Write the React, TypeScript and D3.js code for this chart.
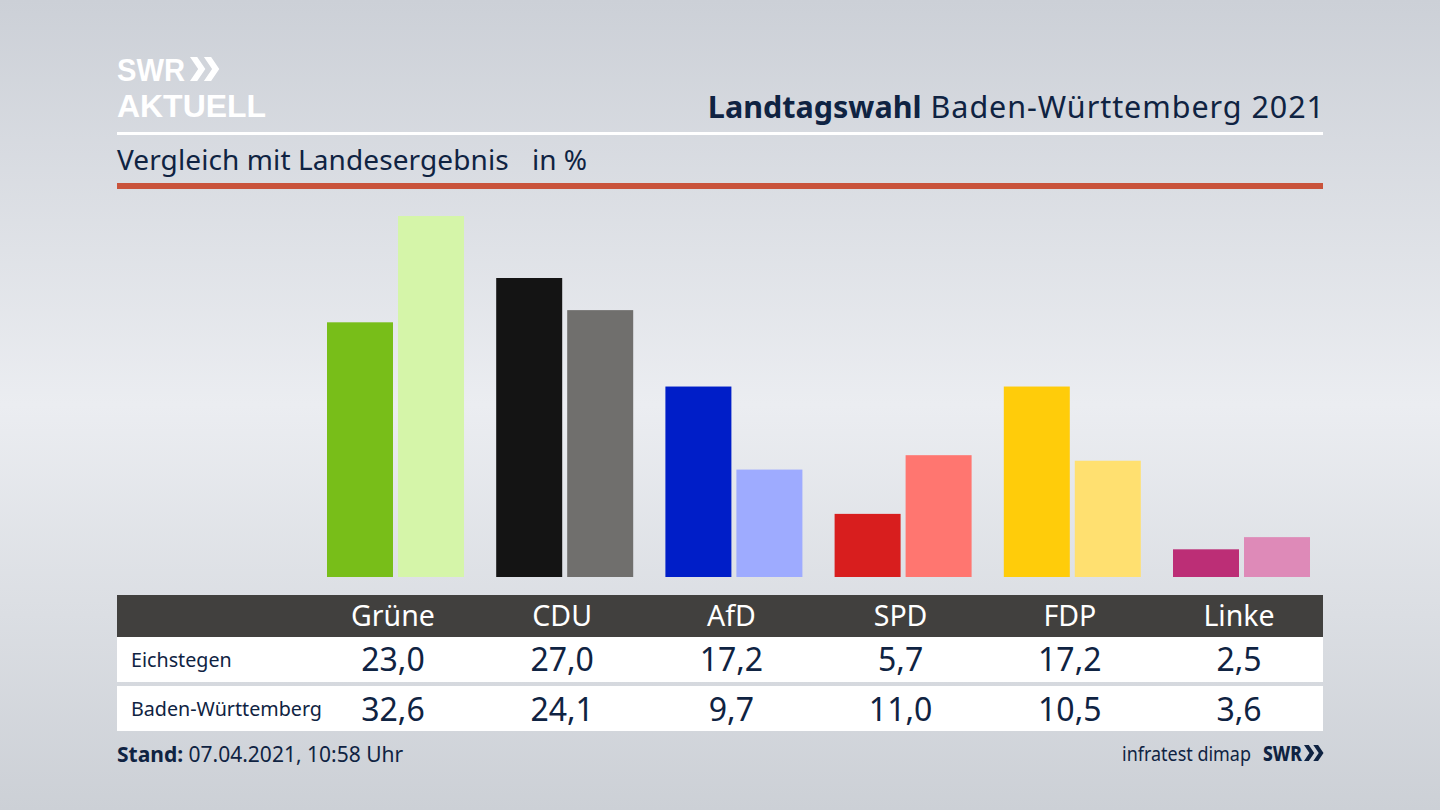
import * as d3 from "d3"

const parties = ["Grüne", "CDU", "AfD", "SPD", "FDP", "Linke"]
const eichstegen = [23.0, 27.0, 17.2, 5.7, 17.2, 2.5]
const land = [32.6, 24.1, 9.7, 11.0, 10.5, 3.6]
const colorsOrt = ["#78be19", "#141414", "#001ec8", "#d81e1e", "#ffcc0a", "#bc2e76"]
const colorsLand = ["#d5f5a9", "#706f6d", "#9eabff", "#ff7670", "#ffe070", "#de8ab8"]

const fmt = (v: number) => v.toFixed(1).replace(".", ",")

const width = 1440
const height = 810
const left = 117
const right = 1323
const baseline = 577
const navy = "#0f2342"
const font = "'Noto Sans', sans-serif"

const x = d3.scaleBand<string>().domain(parties).range([308.4, 1323.6])
const sub = d3.scaleBand<string>().domain(["ort", "land"]).range([0, 137]).paddingInner(5 / 71)
const y = d3.scaleLinear().domain([0, 32.6]).range([baseline, 216])

const center = (p: string) => (x(p) || 0) + x.bandwidth() / 2

function Chevrons({ px, py, h, fill }: { px: number; py: number; h: number; fill: string }) {
  const w = h * 0.52
  const t = h * 0.3
  const chevron = d3.line()([
    [0, 0],
    [t, 0],
    [w + t * 0.4, h / 2],
    [t, h],
    [0, h],
    [w - t * 0.6, h / 2],
  ])
  return (
    <g transform={`translate(${px},${py})`} fill={fill}>
      <path d={chevron + "Z"} />
      <path d={chevron + "Z"} transform={`translate(${h * 0.58},0)`} />
    </g>
  )
}

export default function App() {
  return (
    <svg
      width={width}
      height={height}
      viewBox={`0 0 ${width} ${height}`}
      style={{ position: "fixed", top: 0, left: 0, fontFamily: font }}
    >
      <defs>
        <linearGradient id="bg" x1="0" y1="0" x2="0" y2="1">
          <stop offset="0" stopColor="#ccd0d7" />
          <stop offset="0.5" stopColor="#ebedf1" />
          <stop offset="1" stopColor="#ccd0d6" />
        </linearGradient>
      </defs>
      <rect width={width} height={height} fill="url(#bg)" />

      {/* Logo */}
      <text x={left} y={80.5} fill="#fff" fontFamily="'Liberation Sans'" fontWeight={700} fontSize={32} textLength={68} lengthAdjust="spacingAndGlyphs">
        SWR
      </text>
      <text x={left} y={116.5} fill="#fff" fontFamily="'Liberation Sans'" fontWeight={700} fontSize={32} textLength={149} lengthAdjust="spacingAndGlyphs">
        AKTUELL
      </text>
      <Chevrons px={190} py={57} h={24} fill="#fff" />

      {/* Header */}
      <text x={right + 2} y={118} textAnchor="end" fill={navy} fontSize={30.5}>
        <tspan fontWeight={700}>Landtagswahl</tspan>
        <tspan letterSpacing={0.95}> Baden-Württemberg 2021</tspan>
      </text>
      <rect x={left} y={132} width={right - left} height={3} fill="#fff" />
      <text x={left} y={170} fill={navy} fontSize={28} letterSpacing={0.1}>
        Vergleich mit Landesergebnis
      </text>
      <text x={532} y={170} fill={navy} fontSize={28}>
        in %
      </text>
      <rect x={left} y={183} width={right - left} height={6} fill="#c9533b" />

      {/* Bars */}
      {parties.map((p, i) => {
        const x0 = center(p) - 66
        return (
          <g key={p}>
            <rect
              x={x0 + (sub("ort") || 0)}
              y={y(eichstegen[i])}
              width={sub.bandwidth()}
              height={baseline - y(eichstegen[i])}
              fill={colorsOrt[i]}
            />
            <rect
              x={x0 + (sub("land") || 0)}
              y={y(land[i])}
              width={sub.bandwidth()}
              height={baseline - y(land[i])}
              fill={colorsLand[i]}
            />
          </g>
        )
      })}

      {/* Table */}
      <rect x={left} y={595} width={right - left} height={42} fill="#41403e" />
      <rect x={left} y={637} width={right - left} height={45} fill="#fff" />
      <rect x={left} y={686} width={right - left} height={45} fill="#fff" />
      <text x={131} y={667} fill={navy} fontSize={19.7}>
        Eichstegen
      </text>
      <text x={131} y={716} fill={navy} fontSize={19.7}>
        Baden-Württemberg
      </text>
      {parties.map((p, i) => (
        <g key={p} textAnchor="middle">
          <text x={center(p)} y={626} fill="#fff" fontSize={28.5}>
            {p}
          </text>
          <text x={center(p)} y={671} fill={navy} fontSize={32}>
            {fmt(eichstegen[i])}
          </text>
          <text x={center(p)} y={720.5} fill={navy} fontSize={32}>
            {fmt(land[i])}
          </text>
        </g>
      ))}

      {/* Footer */}
      <text x={left} y={762} fill={navy} fontSize={21}>
        <tspan fontWeight={700}>Stand:</tspan> 07.04.2021, 10:58 Uhr
      </text>
      <text x={1122} y={761} fill={navy} fontSize={20} textLength={129} lengthAdjust="spacingAndGlyphs">
        infratest dimap
      </text>
      <text x={1263} y={761} fill={navy} fontSize={21} fontWeight={800} textLength={39} lengthAdjust="spacingAndGlyphs">
        SWR
      </text>
      <Chevrons px={1304} py={745} h={16} fill={navy} />
    </svg>
  )
}
